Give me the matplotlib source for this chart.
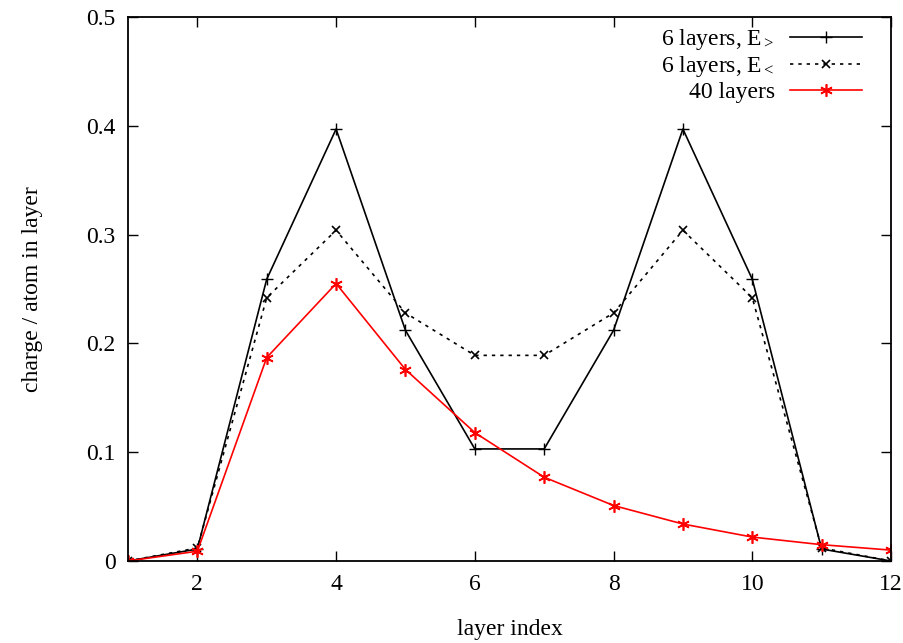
import numpy as np
from matplotlib import pyplot as plt

plt.rcParams['font.family'] = ['Liberation Serif', 'DejaVu Serif']
plt.rcParams['mathtext.fontset'] = 'custom'
plt.rcParams['mathtext.rm'] = 'Liberation Serif'
plt.rcParams['mathtext.it'] = 'Liberation Serif:italic'

layers = np.arange(1, 13)
e_upper = [0.0, 0.011, 0.259, 0.397, 0.212, 0.103, 0.103, 0.212, 0.397, 0.259, 0.011, 0.0]
e_lower = [0.0, 0.012, 0.242, 0.304, 0.228, 0.189, 0.189, 0.228, 0.304, 0.242, 0.012, 0.0]
layers40 = [0.0, 0.009, 0.187, 0.255, 0.176, 0.118, 0.077, 0.051, 0.034, 0.022, 0.015, 0.010]

fig = plt.figure(figsize=(9.04, 6.43), dpi=100)
ax = fig.add_axes([128 / 904, (643 - 561) / 643, (891 - 128) / 904, (561 - 17) / 643])

ax.plot(layers, e_upper, color='black', lw=1.2, marker='+', ms=8, mew=1.0,
        label='6 layers, E$_{>}$')
ax.plot(layers, e_lower, color='black', lw=1.2, ls=(0, (2, 3)), marker='x', ms=6, mew=1.2,
        label='6 layers, E$_{<}$')
ax.plot(layers, layers40, color='red', lw=1.2, marker=(6, 2, 0), ms=9, mew=1.2,
        label='40 layers')

ax.set_xlim(1, 12)
ax.set_ylim(0, 0.5)
ax.set_xticks([2, 4, 6, 8, 10, 12])
ax.set_yticks([0, 0.1, 0.2, 0.3, 0.4, 0.5])
ax.set_yticklabels(['0', '0.1', '0.2', '0.3', '0.4', '0.5'])
ax.tick_params(direction='in', top=True, right=True, length=7, width=1.0, labelsize=17, pad=9)
for s in ax.spines.values():
    s.set_linewidth(1.3)

ax.set_xlabel('layer index', fontsize=17, labelpad=18)
ax.set_ylabel('charge / atom in layer', fontsize=17, labelpad=31)

ax.legend(loc='upper right', bbox_to_anchor=(862 / 904, 1 - 27 / 643), bbox_transform=fig.transFigure,
          frameon=False, markerfirst=False, fontsize=17,
          handlelength=3.05, labelspacing=0.1, borderaxespad=0.0, handletextpad=0.65,
          borderpad=0.0)

fig.savefig('out.png', dpi=100)
